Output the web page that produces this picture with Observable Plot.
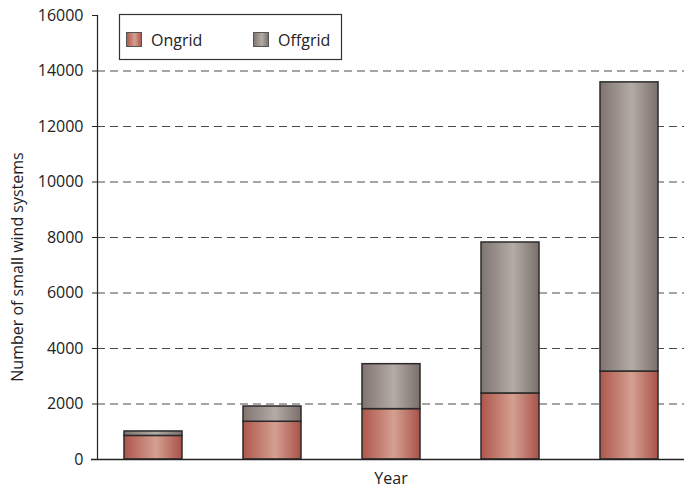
<!DOCTYPE html>
<html>
<head>
<meta charset="utf-8">
<script src="https://cdn.jsdelivr.net/npm/d3@7"></script>
<script src="https://cdn.jsdelivr.net/npm/@observablehq/plot@0.6"></script>
<style>
  html, body { margin: 0; padding: 0; background: #fff; }
</style>
</head>
<body>
<div id="chart"></div>
<script>
const years = ["Y1", "Y2", "Y3", "Y4", "Y5"];
const series = ["Ongrid", "Offgrid"];
const ongrid = [850, 1360, 1815, 2380, 3170];
const offgrid = [160, 550, 1620, 5440, 10420];
const yTicks = [0, 2000, 4000, 6000, 8000, 10000, 12000, 14000, 16000];
const gridTicks = [2000, 4000, 6000, 8000, 10000, 12000, 14000];
const yTitle = "Number of small wind systems";
const xTitle = "Year";

const data = [];
years.forEach((yr, i) => {
  data.push({year: yr, series: "Ongrid", value: ongrid[i]});
  data.push({year: yr, series: "Offgrid", value: offgrid[i]});
});

const FONT = "'Open Sans', 'Noto Sans', sans-serif";

function gradDefs() {
  const defs = d3.create("svg:defs");
  const mk = (id, edgeL, mid, edgeR) => {
    const g = defs.append("linearGradient").attr("id", id)
      .attr("x1", "0%").attr("x2", "100%").attr("y1", "0%").attr("y2", "0%");
    g.append("stop").attr("offset", "0%").attr("stop-color", edgeL);
    g.append("stop").attr("offset", "55%").attr("stop-color", mid);
    g.append("stop").attr("offset", "100%").attr("stop-color", edgeR);
  };
  mk("gradOn", "#ae564c", "#d4a090", "#a9524a");
  mk("gradOff", "#80746f", "#b4aba7", "#7a6f6b");
  return defs.node();
}

const svg = Plot.plot({
  width: 684,
  height: 490,
  marginLeft: 97,
  marginRight: 0,
  marginTop: 15,
  marginBottom: 31,
  style: {fontFamily: FONT, fontSize: "16px", color: "#222", background: "#fff"},
  x: {domain: years, paddingInner: 0.514, paddingOuter: 0.218, axis: null},
  y: {domain: [0, 16000], ticks: yTicks},
  color: {domain: series, range: ["url(#gradOn)", "url(#gradOff)"]},
  marks: [
    gradDefs,
    Plot.ruleY(gridTicks, {stroke: "#4a4a4a", strokeWidth: 1, strokeDasharray: "8,5"}),
    Plot.barY(data, Plot.stackY({x: "year", y: "value", fill: "series", order: series, stroke: "#2a2a2a", strokeWidth: 1.5})),
    Plot.axisY({ticks: yTicks, tickSize: 5, tickPadding: 9, tickFormat: d => String(d), label: null, fontSize: 16, stroke: "#222"}),
    Plot.frame({anchor: "left", stroke: "#222", strokeWidth: 1.2}),
    Plot.ruleY([0], {stroke: "#222", strokeWidth: 1.5, insetLeft: -6})
  ]
});

const s = d3.select(svg);

// Axis titles
s.append("text")
  .attr("transform", "translate(23,267) rotate(-90)")
  .attr("text-anchor", "middle")
  .attr("font-family", FONT).attr("font-size", 16).attr("fill", "#222")
  .text(yTitle);
s.append("text")
  .attr("x", 391).attr("y", 484)
  .attr("text-anchor", "middle")
  .attr("font-family", FONT).attr("font-size", 16).attr("fill", "#222")
  .text(xTitle);

// Legend inside the plot area (top-left)
const lg = s.append("g");
lg.append("rect").attr("x", 119.5).attr("y", 14.5).attr("width", 222).attr("height", 45)
  .attr("fill", "#fff").attr("stroke", "#333").attr("stroke-width", 1.2);
const fills = ["url(#gradOn)", "url(#gradOff)"];
const sx = [126, 253];
series.forEach((name, i) => {
  lg.append("rect").attr("x", sx[i] + 0.5).attr("y", 32.5).attr("width", 15).attr("height", 14)
    .attr("fill", fills[i]).attr("stroke", "#555").attr("stroke-width", 1);
  lg.append("text").attr("x", sx[i] + 25).attr("y", 45.5)
    .attr("text-anchor", "start")
    .attr("font-family", FONT).attr("font-size", 16).attr("fill", "#222").text(name);
});

document.getElementById("chart").appendChild(svg);
</script>
</body>
</html>
